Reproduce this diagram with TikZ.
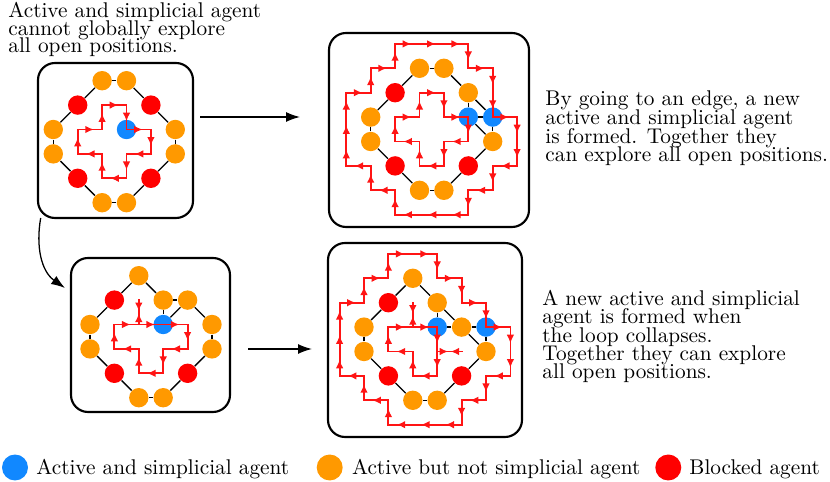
\documentclass[tikz,border=0pt]{standalone}
\usetikzlibrary{arrows.meta,decorations.markings}
\definecolor{agblue}{RGB}{17,136,255}
\definecolor{agorange}{RGB}{255,153,0}
\definecolor{agred}{RGB}{255,0,0}
\definecolor{pathred}{RGB}{255,20,20}
\newcommand\tightlines{\fontsize{10pt}{8.2pt}\selectfont\lineskiplimit=-100pt\relax\lineskip=0pt\relax}
\newcommand\tightlinesb{\fontsize{10pt}{8.75pt}\selectfont\lineskiplimit=-100pt\relax\lineskip=0pt\relax}
\newcommand\tightlinesc{\fontsize{10pt}{8.6pt}\selectfont\lineskiplimit=-100pt\relax\lineskip=0pt\relax}
\tikzset{
  ag/.style={circle, inner sep=0pt, minimum size=9.1pt},
  bl/.style={ag, fill=agblue},
  og/.style={ag, fill=agorange},
  rd/.style={ag, fill=agred},
  link/.style={draw=black, line width=0.6pt},
  seg/.style={draw=pathred, line width=0.85pt, line cap=rect, postaction={decorate},
    decoration={markings, mark=at position 0.66 with {\arrow{Latex[length=4pt,width=3.6pt]}}}},
  spurseg/.style={draw=pathred, line width=0.85pt, line cap=rect, postaction={decorate},
    decoration={markings, mark=at position 0.45 with {\arrow{Latex[length=4pt,width=3.6pt]}}}},
  panel/.style={draw=black, line width=1pt, rounded corners=8pt},
  txt/.style={inner sep=0pt, align=left, font=\tightlines},
  bigarrow/.style={draw=black, line width=0.6pt, -{Latex[length=6.5pt,width=4.6pt]}},
  grid/.style={x=11.456pt, y=-11.456pt}
}
\newcommand\redloop[3]{%
  \foreach \x/\y [remember=\x as \lx (initially #1), remember=\y as \ly (initially #2)] in {#3} {\draw[seg] (\lx,\ly) -- (\x,\y);}}
\newcommand\spurpath[4]{\draw[spurseg] (#1,#2) -- (#3,#4); \draw[spurseg] (#3,#4) -- (#1,#2);}
\begin{document}
\begin{tikzpicture}[x=0.4695pt, y=-0.4695pt]
\useasboundingbox (0,0) rectangle (830,482);

% panels
\draw[panel] (38,63) rectangle (193,218);
\draw[panel] (329,33) rectangle (529,227);
\draw[panel] (71,258) rectangle (230,412);
\draw[panel] (328,243) rectangle (522,437);

% ---------- panel 1 ----------
\begin{scope}[shift={(53.3,80.7)}, grid]
  \node[og] (p1n20) at (2,0) {};
  \node[og] (p1n30) at (3,0) {};
  \node[rd] (p1n11) at (1,1) {};
  \node[rd] (p1n41) at (4,1) {};
  \node[og] (p1n02) at (0,2) {};
  \node[og] (p1n03) at (0,3) {};
  \node[og] (p1n52) at (5,2) {};
  \node[og] (p1n53) at (5,3) {};
  \node[rd] (p1n14) at (1,4) {};
  \node[rd] (p1n44) at (4,4) {};
  \node[og] (p1n25) at (2,5) {};
  \node[og] (p1n35) at (3,5) {};
  \node[bl] (p1n32) at (3,2) {};
  \foreach \a/\b in {20/30,30/41,41/52,52/53,53/44,44/35,35/25,25/14,14/03,03/02,02/11,11/20}
    \draw[link] (p1n\a) -- (p1n\b);
  \redloop{1}{3}{1/2,2/2,2/1,3/1,3/2,4/2,4/3,3/3,3/4,2/4,2/3,1/3}
\end{scope}

% ---------- panel 2 ----------
\begin{scope}[shift={(370.7,68.3)}, grid]
  \node[og] (p2n20) at (2,0) {};
  \node[og] (p2n30) at (3,0) {};
  \node[rd] (p2n11) at (1,1) {};
  \node[og] (p2n41) at (4,1) {};
  \node[og] (p2n02) at (0,2) {};
  \node[og] (p2n03) at (0,3) {};
  \node[bl] (p2n42) at (4,2) {};
  \node[bl] (p2n52) at (5,2) {};
  \node[og] (p2n53) at (5,3) {};
  \node[rd] (p2n14) at (1,4) {};
  \node[rd] (p2n44) at (4,4) {};
  \node[og] (p2n25) at (2,5) {};
  \node[og] (p2n35) at (3,5) {};
  \foreach \a/\b in {20/30,30/41,41/42,41/52,42/52,42/53,52/53,53/44,44/35,35/25,25/14,14/03,03/02,02/11,11/20}
    \draw[link] (p2n\a) -- (p2n\b);
  \redloop{1}{-1}{2/-1,3/-1,4/-1,4/0,5/0,5/1,5/2,6/2,6/3,6/4,5/4,5/5,4/5,4/6,3/6,2/6,1/6,1/5,0/5,0/4,-1/4,-1/3,-1/2,-1/1,0/1,0/0,1/0,1/-1}
  \redloop{2}{1}{3/1,3/2,4/2,4/3,3/3,3/4,2/4,2/3,1/3,1/2,2/2,2/1}
\end{scope}

% ---------- panel 3 ----------
\begin{scope}[shift={(90,275.7)}, grid]
  \node[og] (p3n20) at (2,0) {};
  \node[rd] (p3n11) at (1,1) {};
  \node[og] (p3n31) at (3,1) {};
  \node[og] (p3n41) at (4,1) {};
  \node[og] (p3n02) at (0,2) {};
  \node[og] (p3n03) at (0,3) {};
  \node[bl] (p3n32) at (3,2) {};
  \node[og] (p3n52) at (5,2) {};
  \node[og] (p3n53) at (5,3) {};
  \node[rd] (p3n14) at (1,4) {};
  \node[rd] (p3n44) at (4,4) {};
  \node[og] (p3n25) at (2,5) {};
  \node[og] (p3n35) at (3,5) {};
  \foreach \a/\b in {11/20,20/31,31/41,31/32,32/41,41/52,52/53,53/44,44/35,35/25,25/14,14/03,03/02,02/11}
    \draw[link] (p3n\a) -- (p3n\b);
  \redloop{1}{3}{1/2,2/2,3/2,4/2,4/3,3/3,3/4,2/4,2/3,1/3}
  \spurpath{2}{2}{2}{1}
\end{scope}

% ---------- panel 4 ----------
\begin{scope}[shift={(364,278.3)}, grid]
  \node[og] (p4n20) at (2,0) {};
  \node[rd] (p4n11) at (1,1) {};
  \node[og] (p4n31) at (3,1) {};
  \node[og] (p4n02) at (0,2) {};
  \node[og] (p4n03) at (0,3) {};
  \node[bl] (p4n32) at (3,2) {};
  \node[og] (p4n42) at (4,2) {};
  \node[bl] (p4n52) at (5,2) {};
  \node[og] (p4n53) at (5,3) {};
  \node[rd] (p4n14) at (1,4) {};
  \node[rd] (p4n44) at (4,4) {};
  \node[og] (p4n25) at (2,5) {};
  \node[og] (p4n35) at (3,5) {};
  \foreach \a/\b in {11/20,20/31,31/32,31/42,32/42,42/52,42/53,52/53,53/44,44/35,35/25,25/14,14/03,03/02,02/11}
    \draw[link] (p4n\a) -- (p4n\b);
  \redloop{1}{-1}{2/-1,3/-1,3/0,4/0,4/1,5/1,5/2,6/2,6/3,6/4,5/4,5/5,4/5,4/6,3/6,2/6,1/6,1/5,0/5,0/4,-1/4,-1/3,-1/2,-1/1,0/1,0/0,1/0,1/-1}
  \redloop{1}{3}{1/2,2/2,3/2,3/3,3/4,2/4,2/3,1/3}
  \spurpath{2}{2}{2}{1}
  \spurpath{3}{3}{4}{3}
\end{scope}

% ---------- arrows ----------
\coordinate (a1s) at (200,117);
\coordinate (a1e) at (300,117);
\draw[bigarrow] (a1s) -- (a1e);
\coordinate (a2s) at (248,349);
\coordinate (a2e) at (312,349);
\draw[bigarrow] (a2s) -- (a2e);
\coordinate (a3s) at (40.7,218);
\coordinate (a3e) at (65,288);
\draw[bigarrow] (a3s) to[out=-100, in=145] (a3e);

% ---------- texts ----------
\node[txt, anchor=north west] (t1) at (8,1.9) {Active and simplicial agent\\cannot globally explore\\all open positions.};
\node[txt, font=\tightlinesb, anchor=north west] (t2) at (545,90.7) {By going to an edge, a new\\active and simplicial agent\\is formed. Together they\\can explore all open positions.};
\node[txt, font=\tightlinesc, anchor=north west] (t3) at (542,289.8) {A new active and simplicial\\agent is formed when\\the loop collapses.\\Together they can explore\\all open positions.};

% ---------- legend ----------
\node[bl, minimum size=12.2pt] (lb) at (15,467.5) {};
\node[txt, anchor=base west] (lbt) at (36,475) {Active and simplicial agent};
\node[og, minimum size=12.2pt] (lo) at (329.7,467.5) {};
\node[txt, anchor=base west] (lot) at (351.7,475) {Active but not simplicial agent};
\node[rd, minimum size=12.2pt] (lr) at (668.3,467.5) {};
\node[txt, anchor=base west] (lrt) at (689,475) {Blocked agent};
\end{tikzpicture}
\end{document}
